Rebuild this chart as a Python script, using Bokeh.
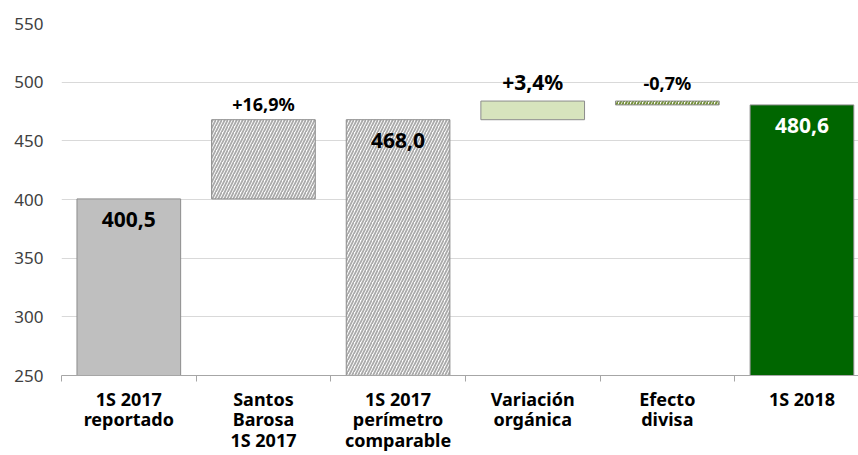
from bokeh.plotting import figure
from bokeh.models import FixedTicker, Range1d
from bokeh.core.properties import value
from bokeh.embed import file_html
from bokeh.resources import INLINE

# ---- data ----
categories = ["1S 2017\nreportado", "Santos\nBarosa\n1S 2017", "1S 2017\nperímetro\ncomparable",
              "Variación\norgánica", "Efecto\ndivisa", "1S 2018"]
steps = [400.5, 67.5, 468.0, 15.9, -3.3, 480.6]
is_total = [True, False, True, False, False, True]
value_labels = ["400,5", "", "468,0", "", "", "480,6"]
pct_labels = ["", "+16,9%", "", "+3,4%", "-0,7%", ""]
y_ticks = [250, 300, 350, 400, 450, 500, 550]

y_min, y_max = 250, 550

tops, bottoms = [], []
run = 0.0
for v, t in zip(steps, is_total):
    if t:
        run = v
        bottoms.append(y_min)
        tops.append(v)
    else:
        bottoms.append(run)
        run += v
        tops.append(run)

xs = list(range(len(categories)))

FONT = "Noto Sans"

p = figure(width=858, height=455, output_backend="svg", toolbar_location=None,
           x_range=Range1d(-0.5, 5.42), y_range=Range1d(y_min, y_max),
           min_border_left=61, min_border_right=0, min_border_top=23, min_border_bottom=79)
p.outline_line_color = None
p.background_fill_color = "white"
p.border_fill_color = "white"

hatch_grey = dict(fill_color="white", fill_alpha=0.85, hatch_pattern="/", hatch_color="#aaaaaa",
                  hatch_scale=6, hatch_weight=1.8, line_color="#8c8c8c")
styles = [
    dict(fill_color="#bfbfbf", line_color="#8c8c8c"),
    hatch_grey,
    hatch_grey,
    dict(fill_color="#d7e4bd", line_color="#8c8c8c"),
    dict(fill_color="white", hatch_pattern="/", hatch_color="#77933c",
         hatch_scale=6, hatch_weight=2, line_color="#8c8c8c"),
    dict(fill_color="#006600", line_color="#8c8c8c"),
]

for i in xs:
    p.vbar(x=[xs[i]], top=[tops[i]], bottom=[bottoms[i]], width=0.77, line_width=1, **styles[i])

# value labels inside bars
for i in xs:
    if value_labels[i]:
        p.text(x=[xs[i]], y=[tops[i]], text=[value_labels[i]], text_align="center",
               text_baseline="middle", y_offset=21, text_font=value(FONT),
               text_font_style="bold", text_font_size="21px",
               text_color="white" if i == 5 else "black")

# percentage labels above bars
pct_sizes = {1: "18px", 3: "21px", 4: "18px"}
pct_off = {1: -16, 3: -19, 4: -18}
for i in xs:
    if pct_labels[i]:
        p.text(x=[xs[i]], y=[max(tops[i], bottoms[i])], text=[pct_labels[i]], text_align="center",
               text_baseline="middle", y_offset=pct_off[i], text_font=value(FONT),
               text_font_style="bold", text_font_size=pct_sizes[i], text_color="black")

# x axis
p.xaxis.ticker = FixedTicker(ticks=xs, minor_ticks=[x - 0.5 for x in xs] + [xs[-1] + 0.5])
p.xaxis.major_label_overrides = {x: c for x, c in zip(xs, categories)}
p.xaxis.major_tick_line_color = None
p.xaxis.major_tick_out = 0
p.xaxis.major_tick_in = 0
p.xaxis.minor_tick_line_color = "#a6a6a6"
p.xaxis.minor_tick_out = 6
p.xaxis.minor_tick_in = 0
p.xaxis.axis_line_color = "#a6a6a6"
p.xaxis.major_label_standoff = 5
p.xaxis.major_label_text_font = FONT
p.xaxis.major_label_text_font_style = "bold"
p.xaxis.major_label_text_font_size = "18px"
p.xaxis.major_label_text_color = "black"
p.xaxis.major_label_text_line_height = 0.87
p.xgrid.visible = False

# y axis
p.yaxis.ticker = FixedTicker(ticks=y_ticks)
p.yaxis.axis_line_color = None
p.yaxis.major_tick_line_color = None
p.yaxis.major_tick_out = 0
p.yaxis.major_tick_in = 0
p.yaxis.minor_tick_line_color = None
p.yaxis.major_label_standoff = 18
p.yaxis.major_label_text_font = FONT
p.yaxis.major_label_text_font_size = "17px"
p.yaxis.major_label_text_color = "#404040"
p.ygrid.grid_line_color = "#d9d9d9"
p.ygrid.grid_line_width = 1

open("out.html", "w").write(file_html(p, INLINE))
